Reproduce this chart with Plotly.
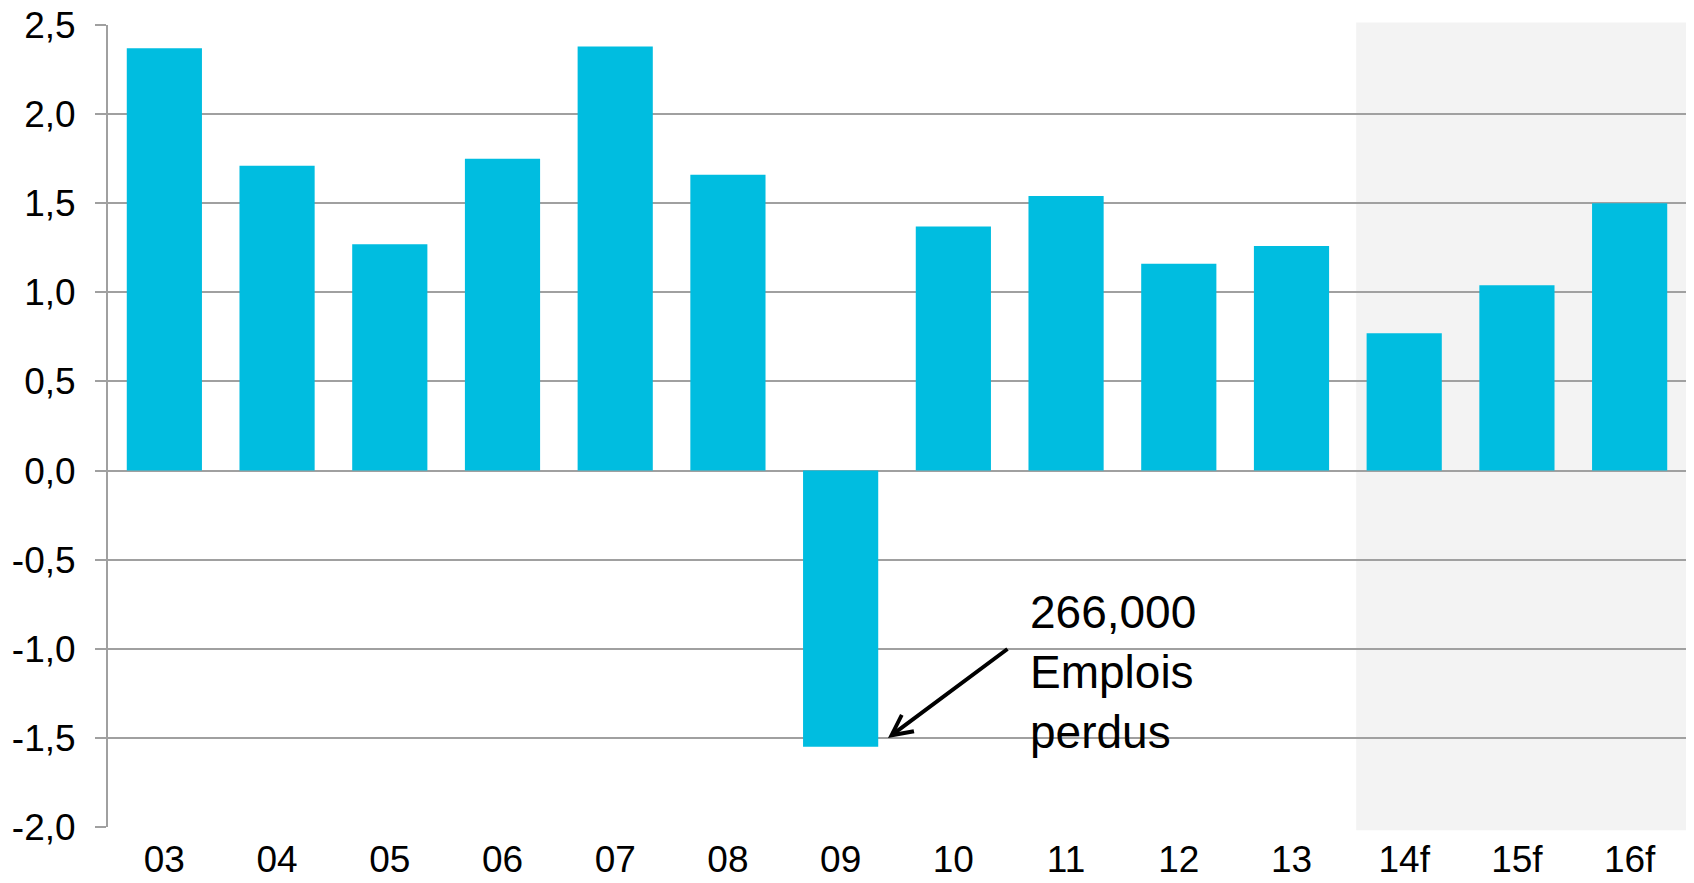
import plotly.graph_objects as go

categories = ["03", "04", "05", "06", "07", "08", "09", "10", "11", "12", "13", "14f", "15f", "16f"]
values = [2.37, 1.71, 1.27, 1.75, 2.38, 1.66, -1.55, 1.37, 1.54, 1.16, 1.26, 0.77, 1.04, 1.50]
y_tickvals = [2.5, 2.0, 1.5, 1.0, 0.5, 0.0, -0.5, -1.0, -1.5, -2.0]
y_ticktext = ["2,5", "2,0", "1,5", "1,0", "0,5", "0,0", "-0,5", "-1,0", "-1,5", "-2,0"]
annotation_text = "266,000<br>Emplois<br>perdus"

FONT = "Arial, 'Liberation Sans', sans-serif"
GRID = "#a0a0a0"

fig = go.Figure()
fig.add_trace(go.Bar(
    x=categories, y=values,
    marker=dict(color="#00BDE0", line=dict(width=0)),
    showlegend=False,
))

# shaded forecast region
fig.add_shape(type="rect", xref="paper", yref="paper",
              x0=0.791, x1=1.002, y0=-0.004, y1=1.003,
              fillcolor="#f3f3f3", line=dict(width=0), layer="below")

# arrow
fig.add_annotation(x=6.42, y=-1.5, xref="x", yref="y", ax=121, ay=-90,
                   showarrow=True, arrowhead=5, arrowsize=1.0, arrowwidth=4,
                   arrowcolor="black", text="")
# text
fig.add_annotation(x=7.66, y=-1.13, xref="x", yref="y", xanchor="left", yanchor="middle",
                   align="left", showarrow=False, text=annotation_text,
                   font=dict(family=FONT, size=46, color="black"))

# the page body adds an 8px margin, so the figure is sized to fit inside the window
fig.update_layout(
    width=1686, height=875,
    margin=dict(l=100, r=8, t=17, b=56),
    paper_bgcolor="white", plot_bgcolor="rgba(0,0,0,0)",
    bargap=0.333,
    font=dict(family=FONT, size=37, color="black"),
)
fig.update_xaxes(
    type="category", showgrid=False, ticks="", showline=False, automargin=False,
    tickfont=dict(family=FONT, size=37, color="black"),
    ticklabelstandoff=7, ticklabeloverflow="allow",
)
fig.update_yaxes(
    range=[-2.0, 2.5], tickvals=y_tickvals, ticktext=y_ticktext,
    showgrid=True, gridcolor=GRID, gridwidth=2, automargin=False,
    zeroline=False, showline=True, linecolor=GRID, linewidth=2,
    ticks="outside", ticklen=11, tickcolor=GRID, tickwidth=2,
    tickfont=dict(family=FONT, size=37, color="black"),
    ticklabelstandoff=12, ticklabeloverflow="allow",
)

fig.write_html("out.html")
